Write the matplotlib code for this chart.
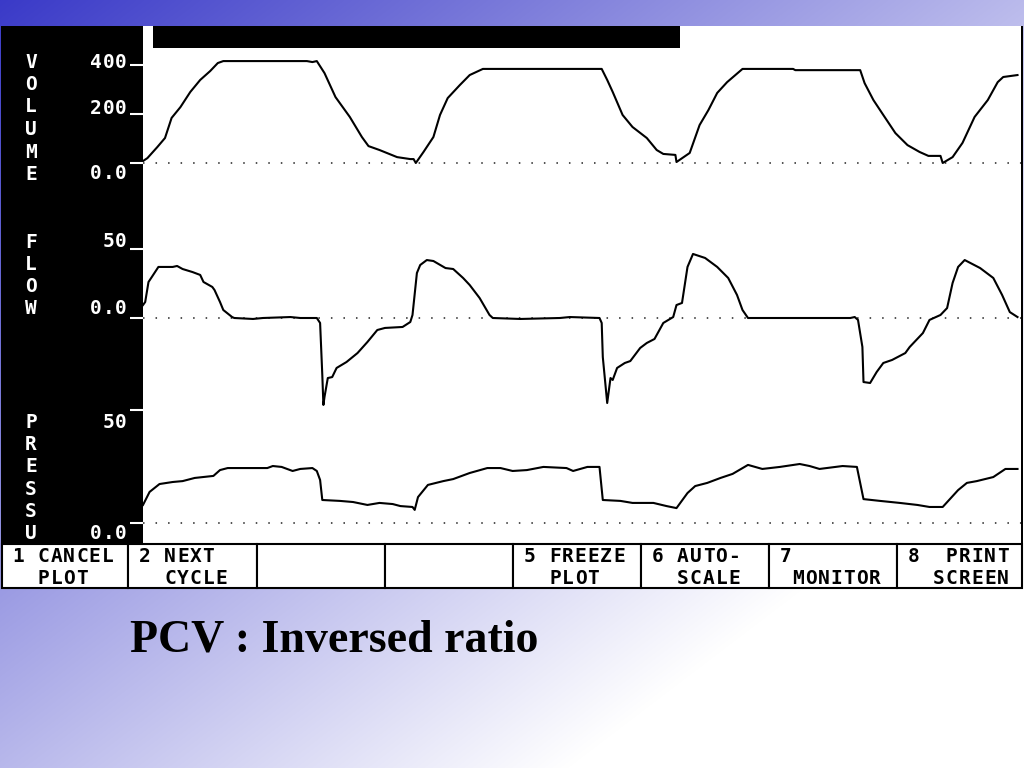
import numpy as np
import matplotlib
matplotlib.use("Agg")
import matplotlib.pyplot as plt
from matplotlib.patches import Rectangle

# ---------------- data (time in s) ----------------
vol_t = [0.00, 0.04, 0.13, 0.20, 0.26, 0.34, 0.43, 0.52, 0.61, 0.68, 0.73, 1.49, 1.54, 1.58,
         1.65, 1.75, 1.88, 1.99, 2.05, 2.15, 2.31, 2.43, 2.46, 2.48, 2.55, 2.64, 2.70, 2.77,
         2.88, 2.97, 3.09, 4.17, 4.22, 4.27, 4.36, 4.45, 4.58, 4.67, 4.73, 4.84, 4.85, 4.97,
         5.06, 5.14, 5.22, 5.31, 5.45, 5.91, 5.93, 6.52, 6.56, 6.64, 6.73, 6.84, 6.95, 7.06,
         7.14, 7.25, 7.27, 7.36, 7.45, 7.56, 7.68, 7.77, 7.82, 7.95]
vol_v = [8, 20, 65, 102, 184, 228, 290, 339, 375, 408, 416, 416, 412, 416,
         367, 269, 188, 106, 69, 53, 24, 16, 16, 0, 45, 106, 196, 265,
         318, 359, 384, 384, 339, 290, 196, 147, 102, 53, 37, 33, 4, 41,
         155, 216, 286, 330, 384, 384, 379, 379, 326, 257, 196, 122, 73, 45,
         29, 29, 0, 24, 82, 188, 257, 330, 351, 359]

flow_t = [0.00, 0.02, 0.05, 0.08, 0.14, 0.27, 0.31, 0.36, 0.45, 0.52, 0.55, 0.63, 0.65, 0.70,
          0.73, 0.81, 0.83, 1.00, 1.09, 1.34, 1.43, 1.58, 1.61, 1.63, 1.64, 1.65, 1.68, 1.72,
          1.76, 1.85, 1.95, 2.04, 2.13, 2.20, 2.36, 2.43, 2.45, 2.49, 2.52, 2.58, 2.64, 2.75,
          2.82, 2.91, 2.97, 3.06, 3.15, 3.18, 3.43, 3.79, 3.88, 4.15, 4.17, 4.18, 4.22, 4.25,
          4.27, 4.31, 4.38, 4.43, 4.52, 4.58, 4.65, 4.73, 4.82, 4.85, 4.90, 4.95, 5.00, 5.11,
          5.22, 5.32, 5.40, 5.45, 5.50, 5.97, 6.43, 6.47, 6.50, 6.54, 6.55, 6.61, 6.67, 6.73,
          6.81, 6.93, 6.97, 7.09, 7.15, 7.25, 7.31, 7.36, 7.41, 7.47, 7.61, 7.73, 7.81, 7.88,
          7.95]
flow_v = [9.4, 11.6, 26.1, 29.7, 37.0, 37.0, 37.7, 35.5, 33.3, 31.2, 26.1, 22.5, 20.3, 11.6,
          5.8, 0.7, 0.0, -0.7, 0.0, 0.7, 0.0, 0.0, -3.6, -41.3, -63.0, -57.2, -43.5, -42.8,
          -36.2, -31.9, -25.4, -17.4, -8.7, -7.2, -6.5, -2.9, 2.2, 32.6, 38.4, 42.0, 41.3, 36.2,
          35.5, 29.0, 23.9, 14.5, 2.2, 0.0, -0.7, 0.0, 0.7, 0.0, -3.6, -28.3, -61.6, -43.5,
          -44.9, -36.2, -32.6, -31.2, -21.7, -18.1, -15.2, -3.6, 0.7, 9.4, 10.9, 37.0, 46.4, 43.5,
          37.0, 29.0, 16.7, 5.8, 0.0, 0.0, 0.0, 0.7, -1.4, -21.0, -46.4, -47.1, -39.1, -32.6,
          -30.4, -25.4, -21.0, -10.9, -1.4, 2.2, 7.2, 25.4, 37.0, 42.0, 36.2, 29.0, 16.7, 4.3,
          0.7]

pres_t = [0.00, 0.06, 0.15, 0.27, 0.36, 0.47, 0.64, 0.70, 0.77, 1.13, 1.18, 1.26, 1.36, 1.43,
          1.54, 1.58, 1.61, 1.63, 1.79, 1.91, 2.04, 2.15, 2.27, 2.34, 2.45, 2.47, 2.50, 2.59,
          2.73, 2.82, 2.97, 3.13, 3.25, 3.36, 3.49, 3.64, 3.85, 3.91, 4.04, 4.15, 4.18, 4.34,
          4.45, 4.64, 4.76, 4.85, 4.95, 5.02, 5.13, 5.25, 5.36, 5.50, 5.63, 5.79, 5.97, 6.06,
          6.15, 6.36, 6.49, 6.55, 6.70, 6.88, 7.04, 7.15, 7.27, 7.41, 7.49, 7.58, 7.73, 7.84,
          7.95]
pres_v = [7.8, 13.6, 17.1, 18.0, 18.4, 19.8, 20.7, 23.3, 24.2, 24.2, 25.1, 24.7, 22.9, 23.8,
          24.2, 22.9, 18.9, 10.0, 9.6, 9.1, 7.8, 8.7, 8.2, 7.3, 6.9, 5.6, 11.3, 16.7,
          18.4, 19.3, 22.0, 24.2, 24.2, 22.9, 23.3, 24.7, 24.2, 22.9, 24.7, 24.7, 10.0, 9.6,
          8.7, 8.7, 7.3, 6.4, 13.1, 16.2, 17.6, 19.8, 21.6, 25.6, 23.8, 24.7, 26.0, 25.1,
          23.8, 25.1, 24.7, 10.4, 9.6, 8.7, 7.8, 6.9, 6.9, 14.4, 17.6, 18.4, 20.2, 23.8,
          23.8]

vol_ticks = [0, 200, 400]
vol_ticklabels = ["0.0", "200", "400"]
flow_ticks = [0, 50]
flow_ticklabels = ["0.0", "50"]
pres_ticks = [0, 50]
pres_ticklabels = ["0.0", "50"]

buttons = [("1 CANCEL", "  PLOT"), ("2 NEXT", "  CYCLE"), ("", ""), ("", ""),
           ("5 FREEZE", "  PLOT"), ("6 AUTO-", "  SCALE"), ("7", " MONITOR"),
           ("8  PRINT", "  SCREEN")]
title = "PCV : Inversed ratio"

# ---------------- figure ----------------
W, H = 1024, 768
fig = plt.figure(figsize=(10.24, 7.68), dpi=100)
bg = fig.add_axes([0, 0, 1, 1])
yy, xx = np.mgrid[0:H, 0:W]
f = np.clip(1 - 0.65 * xx / 1024 - 0.5 * yy / 600, 0, 1)
blue = np.array([58, 58, 200]) / 255.0
white = np.ones(3)
img = white[None, None, :] - (white - blue)[None, None, :] * f[..., None]
bg.imshow(img, extent=(0, W, H, 0), aspect="auto", zorder=0, interpolation="bilinear")
bg.set_xlim(0, W)
bg.set_ylim(H, 0)
bg.axis("off")

# screen
bg.add_patch(Rectangle((1, 26), 142, 517, facecolor="black", edgecolor="none", zorder=1))
bg.add_patch(Rectangle((143, 26), 879, 517, facecolor="white", edgecolor="none", zorder=1))
bg.add_patch(Rectangle((1021, 26), 2, 562, facecolor="black", edgecolor="none", zorder=2))
bg.add_patch(Rectangle((153, 26), 527, 22, facecolor="black", edgecolor="none", zorder=2))

dividers = [1.5, 128, 257, 385, 513, 641, 769, 897, 1022]
for x0, x1 in zip(dividers[:-1], dividers[1:]):
    bg.add_patch(Rectangle((x0, 543.5), x1 - x0, 44, facecolor="white",
                           edgecolor="black", lw=1.5, zorder=2))

P = 12.8
FONT = dict(family="DejaVu Sans Mono", weight="bold", size=14)
CAP = 7.0


def mono(s, xleft, yc, color):
    for i, ch in enumerate(s):
        if ch != " ":
            bg.text(xleft + (i + 0.5) * P, yc + CAP, ch, ha="center", va="baseline",
                    color=color, zorder=5, **FONT)


for (l1, l2), x0 in zip(buttons, dividers[:-1]):
    mono(l1, x0 + 10, 555, "black")
    mono(l2, x0 + 10, 577, "black")

for word, y0, step in (("VOLUME", 60.5, 22.5), ("FLOW", 241.5, 22.0), ("PRESSU", 421, 22.2)):
    for k, ch in enumerate(word):
        mono(ch, 24.5, y0 + k * step, "white")

bg.text(130, 652, title, family="Liberation Serif", weight="bold", size=33,
        color="black", ha="left", va="baseline", zorder=5)


def data_axes(top, bot, zero, ppu):
    ax = fig.add_axes([143 / W, 1 - bot / H, 878 / W, (bot - top) / H])
    ax.set_xlim(0, 878 / 110)
    ax.set_ylim((zero - bot) / ppu, (zero - top) / ppu)
    ax.patch.set_alpha(0)
    for s in ax.spines.values():
        s.set_visible(False)
    ax.set_xticks([])
    ax.tick_params(axis="y", length=9.4, width=1.5, color="white", direction="out",
                   labelleft=False)
    ax.axhline(0, color="#222222", lw=1.1, ls=(0, (1, 7.2)), zorder=1)
    return ax


def ypix(ax, v):
    return H - ax.transData.transform((0, v))[1]


ax_v = data_axes(26, 205, 163, 98 / 400)
ax_f = data_axes(200, 412, 318, 69 / 50)
ax_p = data_axes(400, 543, 522.5, 112.5 / 50)

for ax, t, v, ticks, labels, offs in (
        (ax_v, vol_t, vol_v, vol_ticks, vol_ticklabels, [9, -7, -4]),
        (ax_f, flow_t, flow_v, flow_ticks, flow_ticklabels, [-11, -9]),
        (ax_p, pres_t, pres_v, pres_ticks, pres_ticklabels, [9.5, 11])):
    ax.plot(t, v, color="black", lw=1.5, zorder=3)
    ax.set_yticks(ticks)
    for val, lab, off in zip(ticks, labels, offs):
        yc = ypix(ax, val) + off
        mono(lab, 127.5 - len(lab) * P, yc, "white")

fig.savefig("out.png", dpi=100)
